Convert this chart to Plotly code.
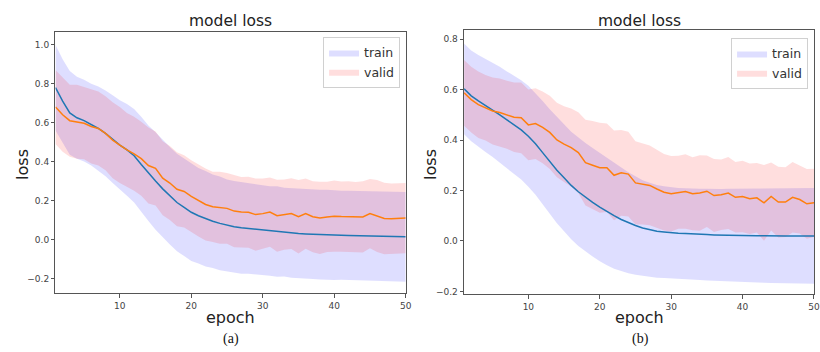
import plotly.graph_objects as go

# ---------------- data ----------------
epochs = list(range(1, 51))

a_train_mean = [0.78, 0.71, 0.65, 0.625, 0.61, 0.59, 0.57, 0.545, 0.515, 0.485,
                0.46, 0.43, 0.385, 0.34, 0.30, 0.26, 0.225, 0.19, 0.165, 0.14,
                0.122, 0.107, 0.094, 0.083, 0.073, 0.066, 0.06, 0.056, 0.052, 0.048,
                0.044, 0.041, 0.038, 0.034, 0.031, 0.029, 0.027, 0.025, 0.024, 0.022,
                0.022, 0.021, 0.02, 0.02, 0.019, 0.018, 0.017, 0.016, 0.015, 0.014]
a_train_std = [0.22, 0.215, 0.215, 0.21, 0.21, 0.21, 0.215, 0.22, 0.225, 0.23,
               0.235, 0.24, 0.245, 0.245, 0.25, 0.25, 0.25, 0.25, 0.25, 0.25,
               0.245, 0.245, 0.24, 0.24, 0.235, 0.235, 0.235, 0.232, 0.23, 0.23,
               0.23, 0.232, 0.228, 0.23, 0.231, 0.229, 0.23, 0.23, 0.232, 0.23,
               0.228, 0.23, 0.23, 0.231, 0.228, 0.23, 0.23, 0.23, 0.23, 0.23]
a_valid_mean = [0.68, 0.64, 0.61, 0.605, 0.597, 0.58, 0.57, 0.545, 0.51, 0.485,
                0.46, 0.44, 0.415, 0.38, 0.365, 0.315, 0.29, 0.258, 0.247, 0.222,
                0.2, 0.18, 0.168, 0.163, 0.16, 0.146, 0.141, 0.14, 0.128, 0.133,
                0.141, 0.122, 0.128, 0.133, 0.117, 0.133, 0.117, 0.111, 0.116, 0.12,
                0.118, 0.117, 0.115, 0.116, 0.133, 0.121, 0.108, 0.107, 0.108, 0.11]
a_valid_std = [0.19, 0.19, 0.185, 0.19, 0.185, 0.19, 0.19, 0.19, 0.195, 0.195,
               0.19, 0.19, 0.19, 0.195, 0.19, 0.19, 0.19, 0.19, 0.185, 0.185,
               0.185, 0.185, 0.18, 0.185, 0.182, 0.185, 0.18, 0.182, 0.185, 0.18,
               0.178, 0.185, 0.18, 0.182, 0.188, 0.18, 0.182, 0.185, 0.18, 0.183,
               0.18, 0.182, 0.18, 0.183, 0.178, 0.185, 0.183, 0.18, 0.18, 0.18]

b_train_mean = [0.603, 0.575, 0.555, 0.537, 0.52, 0.50, 0.48, 0.46, 0.44, 0.415,
                0.385, 0.35, 0.315, 0.28, 0.25, 0.22, 0.195, 0.173, 0.153, 0.134,
                0.116, 0.1, 0.085, 0.072, 0.061, 0.051, 0.044, 0.038, 0.035, 0.032,
                0.03, 0.029, 0.027, 0.026, 0.025, 0.024, 0.023, 0.023, 0.022, 0.022,
                0.021, 0.021, 0.021, 0.02, 0.02, 0.02, 0.02, 0.02, 0.02, 0.02]
b_train_std = [0.18, 0.18, 0.182, 0.185, 0.187, 0.19, 0.192, 0.195, 0.197, 0.2,
               0.202, 0.205, 0.207, 0.21, 0.212, 0.213, 0.215, 0.215, 0.215, 0.215,
               0.212, 0.21, 0.205, 0.2, 0.195, 0.19, 0.187, 0.184, 0.182, 0.18,
               0.18, 0.18, 0.18, 0.181, 0.182, 0.182, 0.183, 0.184, 0.185, 0.185,
               0.186, 0.186, 0.187, 0.187, 0.188, 0.188, 0.188, 0.189, 0.19, 0.19]
b_valid_mean = [0.587, 0.56, 0.54, 0.528, 0.515, 0.509, 0.50, 0.49, 0.488, 0.46,
                0.465, 0.45, 0.43, 0.40, 0.384, 0.37, 0.35, 0.31, 0.30, 0.29,
                0.29, 0.26, 0.27, 0.265, 0.23, 0.225, 0.22, 0.206, 0.193, 0.187,
                0.193, 0.196, 0.187, 0.19, 0.197, 0.18, 0.183, 0.19, 0.173, 0.176,
                0.167, 0.171, 0.151, 0.176, 0.154, 0.154, 0.173, 0.164, 0.147, 0.151]
b_valid_std = [0.13, 0.13, 0.132, 0.13, 0.133, 0.135, 0.135, 0.138, 0.14, 0.14,
               0.14, 0.142, 0.145, 0.148, 0.15, 0.155, 0.16, 0.17, 0.175, 0.178,
               0.175, 0.178, 0.17, 0.168, 0.165, 0.16, 0.158, 0.155, 0.152, 0.15,
               0.145, 0.148, 0.145, 0.15, 0.142, 0.145, 0.14, 0.143, 0.14, 0.142,
               0.14, 0.138, 0.15, 0.135, 0.14, 0.138, 0.14, 0.135, 0.138, 0.135]

x_ticks = [10, 20, 30, 40, 50]
series_names = ["train", "valid"]
panel_titles = ["model loss", "model loss"]
captions = ["(a)", "(b)"]
x_label = "epoch"
y_label = "loss"

# ---------------- style ----------------
W, H = 820, 352
LINE_COLORS = ["#1f77b4", "#ff7f0e"]
FILL_COLORS = ["rgba(0,0,255,0.13)", "rgba(255,0,0,0.13)"]
AX_COLOR = "#555555"
FONT = "DejaVu Sans"


def band(x, m, s):
    upper = [mi + si for mi, si in zip(m, s)]
    lower = [mi - si for mi, si in zip(m, s)]
    return x + x[::-1], upper + lower[::-1]


fig = go.Figure()

panels = [
    ("x", "y", "legend", [(a_train_mean, a_train_std), (a_valid_mean, a_valid_std)]),
    ("x2", "y2", "legend2", [(b_train_mean, b_train_std), (b_valid_mean, b_valid_std)]),
]

for xa, ya, lg, data in panels:
    for i, (m, s) in enumerate(data):
        bx, by = band(epochs, m, s)
        fig.add_trace(go.Scatter(
            x=bx, y=by, xaxis=xa, yaxis=ya, fill="toself",
            fillcolor=FILL_COLORS[i], line=dict(width=0, color=FILL_COLORS[i]),
            mode="lines", name=series_names[i], legend=lg, showlegend=True,
            hoverinfo="skip"))
    for i, (m, s) in enumerate(data):
        fig.add_trace(go.Scatter(
            x=epochs, y=m, xaxis=xa, yaxis=ya, mode="lines",
            line=dict(color=LINE_COLORS[i], width=1.5),
            showlegend=False, name=series_names[i]))

axis_common = dict(
    showline=True, linecolor=AX_COLOR, linewidth=1, mirror=True,
    ticks="outside", ticklen=3.5, tickwidth=0.8, tickcolor=AX_COLOR,
    showgrid=False, zeroline=False,
    tickfont=dict(family=FONT, size=9, color="#444444"),
)

fig.update_layout(
    width=W, height=H,
    margin=dict(l=0, r=0, t=0, b=0),
    paper_bgcolor="white", plot_bgcolor="white",
    xaxis=dict(domain=[55.9 / W, 408.7 / W], range=[1, 50], tickvals=x_ticks,
               anchor="y", **axis_common),
    yaxis=dict(domain=[1 - 295 / H, 1 - 32 / H], range=[-0.276, 1.066],
               tick0=0, dtick=0.2, tickformat=".1f", anchor="x", **axis_common),
    xaxis2=dict(domain=[467.5 / W, 1.0], range=[1, 50], tickvals=x_ticks,
                anchor="y2", **axis_common),
    yaxis2=dict(domain=[1 - 296 / H, 1 - 30 / H], range=[-0.2116, 0.8367],
                tick0=0, dtick=0.2, tickformat=".1f", anchor="x2", **axis_common),
    legend=dict(x=403 / W, y=1 - 37 / H, xanchor="right", yanchor="top",
                bgcolor="rgba(255,255,255,0.8)", bordercolor="#d0d0d0", borderwidth=1,
                font=dict(family=FONT, size=12.5, color="#333333"),
                tracegroupgap=0, itemwidth=30),
    legend2=dict(x=814 / W, y=1 - 38 / H, xanchor="right", yanchor="top",
                 bgcolor="rgba(255,255,255,0.8)", bordercolor="#d0d0d0", borderwidth=1,
                 font=dict(family=FONT, size=12.5, color="#333333"),
                 tracegroupgap=0, itemwidth=30),
)

ann = []
centers = [232, 644]
for k in range(2):
    ann.append(dict(text=panel_titles[k], x=centers[k] / W, y=1 - 21.5 / H,
                    xref="paper", yref="paper", showarrow=False,
                    xanchor="center", yanchor="middle",
                    font=dict(family=FONT, size=15.5, color="#222222")))
    ann.append(dict(text=x_label, x=centers[k] / W, y=1 - 319 / H,
                    xref="paper", yref="paper", showarrow=False,
                    xanchor="center", yanchor="middle",
                    font=dict(family=FONT, size=16, color="#222222")))
    ann.append(dict(text=captions[k], x=(centers[k] + 1) / W, y=1 - 341 / H,
                    xref="paper", yref="paper", showarrow=False,
                    xanchor="center", yanchor="middle",
                    font=dict(family="Liberation Serif", size=14, color="#111111")))
ann.append(dict(text=y_label, x=22 / W, y=1 - 165 / H, xref="paper", yref="paper",
                showarrow=False, textangle=-90, xanchor="center", yanchor="middle",
                font=dict(family=FONT, size=16, color="#222222")))
ann.append(dict(text=y_label, x=433 / W, y=1 - 165 / H, xref="paper", yref="paper",
                showarrow=False, textangle=-90, xanchor="center", yanchor="middle",
                font=dict(family=FONT, size=16, color="#222222")))
fig.update_layout(annotations=ann)

fig.write_html(
    "out.html",
    config={"displayModeBar": False},
    post_script="document.body.style.margin='0';document.body.style.overflow='hidden';",
)
